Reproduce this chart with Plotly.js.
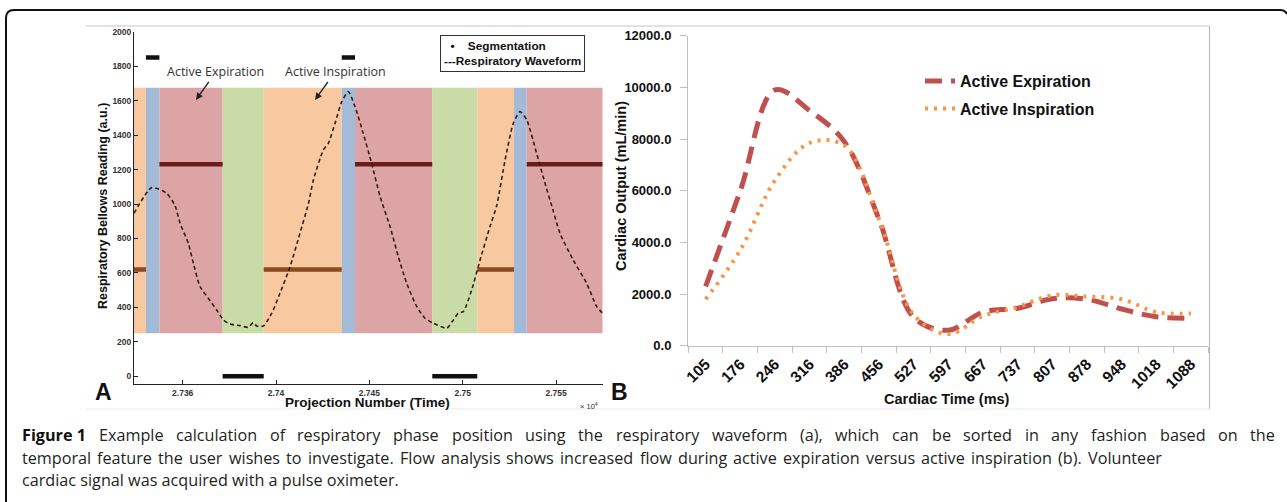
<!DOCTYPE html>
<html>
<head>
<meta charset="utf-8">
<script src="https://cdn.plot.ly/plotly-3.0.1.min.js"></script>
<style>html,body{margin:0;padding:0;background:#fff;}#chart{width:1287px;height:502px;}</style>
</head>
<body>
<div id="chart"></div>
<script>
// ---------- Panel A data ----------
const phaseEdges = [27323.9, 27330.3, 27337.5, 27371.4, 27393.4, 27435.2, 27442.3, 27483.7, 27507.8, 27527.5, 27534.3, 27575.0];
const phaseKinds = ['insp', 'peak', 'exp', 'rest', 'insp', 'peak', 'exp', 'rest', 'insp', 'peak', 'exp'];
const segLevels = [620, 1850, 1230, 0, 620, 1850, 1230, 0, 620, null, 1230];
const bandRange = [250, 1675];
const respX = [27323.9, 27333.4, 27341.4, 27345.9, 27348.6, 27353.0, 27355.7, 27359.3, 27363.7, 27368.2,
  27371.8, 27375.3, 27380.7, 27385.1, 27387.8, 27389.6, 27393.2, 27397.7, 27402.1, 27407.5,
  27412.8, 27417.3, 27420.0, 27425.3, 27428.0, 27431.6, 27435.2, 27438.7, 27442.3, 27446.7,
  27451.2, 27455.7, 27461.1, 27465.5, 27470.0, 27475.4, 27479.8, 27484.3, 27491.4, 27495.0,
  27497.6, 27500.3, 27504.8, 27509.3, 27514.6, 27518.2, 27522.7, 27527.1, 27530.7, 27534.3,
  27539.6, 27544.1, 27548.5, 27552.1, 27559.2, 27566.4, 27571.8, 27575.0];
const respY = [946, 1095, 1062, 990, 888, 772, 656, 520, 453, 385,
  327, 303, 294, 284, 311, 292, 292, 366, 482, 636,
  830, 1000, 1139, 1313, 1352, 1468, 1594, 1652, 1565, 1410,
  1236, 1045, 868, 694, 540, 404, 337, 308, 279, 327,
  366, 375, 501, 675, 868, 990, 1255, 1468, 1536, 1488,
  1294, 1120, 960, 830, 675, 540, 404, 366];
const yTickVals = [0, 200, 400, 600, 800, 1000, 1200, 1400, 1600, 1800, 2000];
const xTickVals = [27350, 27400, 27450, 27500, 27550];
const xTickText = ['2.736', '2.74', '2.745', '2.75', '2.755'];

// ---------- Panel B data ----------
const cardiacTime = ['105', '176', '246', '316', '386', '456', '527', '597', '667', '737', '807', '878', '948', '1018', '1088'];
const activeExpiration = [2300, 6000, 9900, 9100, 7900, 4900, 1100, 600, 1300, 1450, 1820, 1800, 1420, 1120, 1060];
const activeInspiration = [1800, 3700, 6400, 7850, 7750, 4900, 1200, 450, 1150, 1500, 1950, 1900, 1800, 1300, 1250];

// ---------- caption ----------
const captionLabel = 'Figure 1';
const captionLine1 = 'Example calculation of respiratory phase position using the respiratory waveform (a), which can be sorted in any fashion based on the';
const captionLine2 = 'temporal feature the user wishes to investigate. Flow analysis shows increased flow during active expiration versus active inspiration (b). Volunteer';
const captionLine3 = 'cardiac signal was acquired with a pulse oximeter.';

// ---------- helpers / styles ----------
const W = 1287, H = 502;
const px = v => v / W;
const py = v => 1 - v / H;
const bandColors = {insp: '#f8c8a0', peak: '#a3bbd9', exp: '#dca4a4', rest: '#c9dca7'};
const segColors = {insp: '#8a4a22', peak: '#111111', exp: '#6b1c1c', rest: '#111111'};
const BOLD = 'Liberation Sans, Arial, sans-serif';
const CAP = 'Open Sans, sans-serif';
const CAPSIZE = 16.2;
const CAPCOLOR = '#231f20';

const traces = [];
const shapes = [];

// bands
for (let i = 0; i < phaseKinds.length; i++) {
  shapes.push({type: 'rect', xref: 'x', yref: 'y', layer: 'below', line: {width: 0},
    x0: phaseEdges[i], x1: phaseEdges[i + 1], y0: bandRange[0], y1: bandRange[1],
    fillcolor: bandColors[phaseKinds[i]]});
}
// segmentation lines grouped by kind
['insp', 'peak', 'exp', 'rest'].forEach(kind => {
  const xs = [], ys = [];
  for (let i = 0; i < phaseKinds.length; i++) {
    if (phaseKinds[i] !== kind || segLevels[i] === null) continue;
    xs.push(phaseEdges[i], phaseEdges[i + 1], null);
    ys.push(segLevels[i], segLevels[i], null);
  }
  traces.push({x: xs, y: ys, xaxis: 'x', yaxis: 'y', mode: 'lines', showlegend: false,
    line: {color: segColors[kind], width: 4.5}, hoverinfo: 'skip'});
});
// waveform
traces.push({x: respX, y: respY, xaxis: 'x', yaxis: 'y', mode: 'lines', showlegend: false,
  line: {color: '#3a1d12', width: 1.6, dash: '4px,3px', shape: 'spline', smoothing: 0.6}, hoverinfo: 'skip'});

// Panel B
traces.push({x: cardiacTime, y: activeExpiration, xaxis: 'x2', yaxis: 'y2', mode: 'lines', name: 'Active Expiration',
  legend: 'legend', line: {color: '#c0504d', width: 5, dash: '17px,9px', shape: 'spline', smoothing: 1}});
traces.push({x: cardiacTime, y: activeInspiration, xaxis: 'x2', yaxis: 'y2', mode: 'lines', name: 'Active Inspiration',
  legend: 'legend2', line: {color: '#f79646', width: 4, dash: '3px,6px', shape: 'spline', smoothing: 1}});

// frame and border shapes
shapes.push({type: 'path', xref: 'paper', yref: 'paper', line: {color: '#111', width: 2},
  path: `M ${px(6)},${py(502)} L ${px(6)},${py(18)} Q ${px(6)},${py(10)} ${px(14)},${py(10)} L ${px(1280)},${py(10)} Q ${px(1285)},${py(10)} ${px(1287)},${py(14)}`});
shapes.push({type: 'line', xref: 'paper', yref: 'paper', x0: px(86), x1: px(1209.5), y0: py(26), y1: py(26), line: {color: '#c4c4c4', width: 1}});
shapes.push({type: 'line', xref: 'paper', yref: 'paper', x0: px(1209.5), x1: px(1209.5), y0: py(26), y1: py(409), line: {color: '#b8b8b8', width: 1}});
shapes.push({type: 'line', xref: 'paper', yref: 'paper', x0: px(86), x1: px(1209.5), y0: py(409), y1: py(409), line: {color: '#ececec', width: 1}});

function paperText(x, y, text, font, extra) {
  return Object.assign({x: px(x), y: py(y), xref: 'paper', yref: 'paper', xanchor: 'center', yanchor: 'middle',
    showarrow: false, text: text, font: font}, extra || {});
}

const annotations = [
  // panel A labels
  {x: 27357.1, y: 1604, xref: 'x', yref: 'y', ax: 20, ay: -28, xanchor: 'center', yanchor: 'middle', text: 'Active Expiration', showarrow: true,
    arrowhead: 2, arrowsize: 1, arrowwidth: 1.4, arrowcolor: '#222',
    font: {family: 'Liberation Sans Narrow, Open Sans, sans-serif', size: 12.5, color: '#333'}},
  {x: 27420.9, y: 1604, xref: 'x', yref: 'y', ax: 20, ay: -28, xanchor: 'center', yanchor: 'middle', text: 'Active Inspiration', showarrow: true,
    arrowhead: 2, arrowsize: 1, arrowwidth: 1.4, arrowcolor: '#222',
    font: {family: 'Liberation Sans Narrow, Open Sans, sans-serif', size: 12.5, color: '#333'}},
  paperText(440, 35, '<b>  •    Segmentation</b><br><b>---Respiratory Waveform</b>', {family: BOLD, size: 11.8, color: '#111'},
    {xanchor: 'left', yanchor: 'top', align: 'left', bordercolor: '#333', borderwidth: 1, borderpad: 3, bgcolor: '#fff'}),
  paperText(103, 206, '<b>Respiratory Bellows Reading (a.u.)</b>', {family: BOLD, size: 12.5, color: '#111'}, {textangle: -90}),
  paperText(367.5, 402.5, '<b>Projection Number (Time)</b>', {family: BOLD, size: 13.5, color: '#111'}),
  paperText(589, 406, '× 10<sup>4</sup>', {family: BOLD, size: 7.5, color: '#333'}),
  paperText(103, 392, '<b>A</b>', {family: BOLD, size: 23, color: '#111'}),
  paperText(619, 392, '<b>B</b>', {family: BOLD, size: 23, color: '#111'}),
  // panel B titles
  paperText(621, 186, '<b>Cardiac Output (mL/min)</b>', {family: BOLD, size: 14.5, color: '#111'}, {textangle: -90}),
  paperText(947, 399, '<b>Cardiac Time (ms)</b>', {family: BOLD, size: 14.5, color: '#111'}),
  // caption line 3 (natural spacing)
  paperText(20, 480, captionLine3, {family: CAP, size: CAPSIZE, color: CAPCOLOR}, {xanchor: 'left'})
];

// caption lines 1 and 2: word-spaced to the reference line ends
function justifyLine(tokens, y, left, right) {
  const ctx = document.createElement('canvas').getContext('2d');
  let total = 0;
  tokens.forEach(tk => {
    ctx.font = (tk.b ? 'bold ' : '') + CAPSIZE + 'px "Open Sans"';
    tk.w = ctx.measureText(tk.t).width;
    total += tk.w;
  });
  const gap = (right - left - total) / (tokens.length - 1);
  let xpos = left;
  tokens.forEach(tk => {
    annotations.push(paperText(xpos, y, tk.b ? '<b>' + tk.t + '</b>' : tk.t,
      {family: CAP, size: CAPSIZE, color: tk.b ? '#111' : CAPCOLOR}, {xanchor: 'left'}));
    xpos += tk.w + gap;
  });
}
justifyLine([{t: captionLabel, b: true}].concat(captionLine1.split(' ').map(w => ({t: w, b: false}))), 435, 20, 1273);
justifyLine(captionLine2.split(' ').map(w => ({t: w, b: false})), 457.5, 20, 1160);

const legendFont = {family: BOLD, size: 16, color: '#111', weight: 'bold'};
const layout = {
  width: W, height: H, autosize: false,
  margin: {l: 0, r: 0, t: 0, b: 0},
  paper_bgcolor: '#fff', plot_bgcolor: 'rgba(0,0,0,0)',
  font: {family: BOLD},
  xaxis: {domain: [px(134), px(602.7)], range: [27323.9, 27575.0], anchor: 'y',
    tickvals: xTickVals, ticktext: xTickText, ticks: 'inside', ticklen: 4, tickcolor: '#222',
    showline: true, linecolor: '#222', linewidth: 1, showgrid: false, zeroline: false,
    tickfont: {family: BOLD, size: 8.5, color: '#333', weight: 'bold'}},
  yaxis: {domain: [py(384.3), py(31.7)], range: [-46.4, 2000], anchor: 'x',
    tickvals: yTickVals, ticks: 'inside', ticklen: 4, tickcolor: '#222',
    showline: true, linecolor: '#222', linewidth: 1, showgrid: false, zeroline: false,
    tickfont: {family: BOLD, size: 8.5, color: '#333', weight: 'bold'}},
  xaxis2: {domain: [px(688.3), px(1208.3)], type: 'category', range: [-0.5, 14.5], anchor: 'y2',
    tickson: 'boundaries', ticks: 'outside', ticklen: 6, tickcolor: '#bfbfbf', tickangle: -45, ticklabelstandoff: 2,
    showline: true, linecolor: '#bfbfbf', linewidth: 1.3, showgrid: false, zeroline: false,
    tickfont: {family: BOLD, size: 15.5, color: '#111', weight: 'bold'}},
  yaxis2: {domain: [py(345.7), py(35.7)], range: [0, 12000], anchor: 'x2',
    dtick: 2000, tickformat: '.1f', ticks: 'outside', ticklen: 7, tickcolor: '#bfbfbf', ticklabelstandoff: 6,
    showline: true, linecolor: '#bfbfbf', linewidth: 1.3, showgrid: false, zeroline: false,
    tickfont: {family: BOLD, size: 13, color: '#111', weight: 'bold'}},
  legend: {x: px(920), y: py(81), xanchor: 'left', yanchor: 'middle', bgcolor: 'rgba(0,0,0,0)',
    borderwidth: 0, font: legendFont, itemwidth: 30},
  legend2: {x: px(920), y: py(108.5), xanchor: 'left', yanchor: 'middle', bgcolor: 'rgba(0,0,0,0)',
    borderwidth: 0, font: legendFont, itemwidth: 30},
  shapes: shapes,
  annotations: annotations
};

Plotly.newPlot('chart', traces, layout, {displayModeBar: false, staticPlot: true});
</script>
</body>
</html>
